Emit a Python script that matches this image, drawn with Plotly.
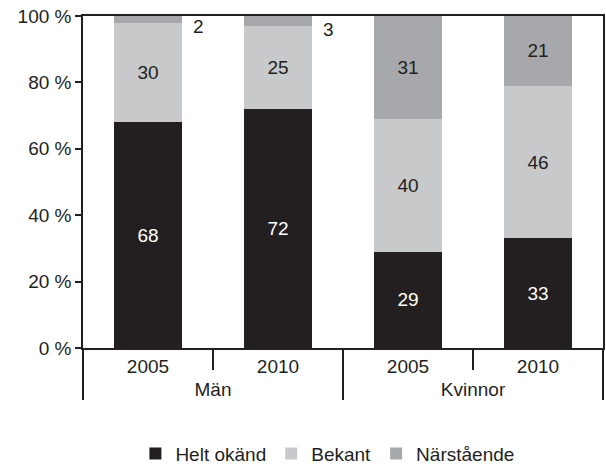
import plotly.graph_objects as go

groups = ["Män", "Män", "Kvinnor", "Kvinnor"]
years = ["2005", "2010", "2005", "2010"]
helt_okand = [68, 72, 29, 33]
bekant = [30, 25, 40, 46]
narstaende = [2, 3, 31, 21]
y_ticks = [0, 20, 40, 60, 80, 100]
y_ticktext = ["0 %", "20 %", "40 %", "60 %", "80 %", "100 %"]

FONT = "Liberation Sans"
FS = 19
TXT = "#231f20"

def labels(vals, min_show=5):
    return [str(v) if v >= min_show else "" for v in vals]

fig = go.Figure()
fig.add_trace(go.Bar(x=[groups, years], y=helt_okand, name="Helt okänd",
                     marker=dict(color="#231f20", line=dict(width=0)),
                     text=labels(helt_okand), textposition="inside",
                     insidetextanchor="middle",
                     textfont=dict(color="white", size=FS, family=FONT)))
fig.add_trace(go.Bar(x=[groups, years], y=bekant, name="Bekant",
                     marker=dict(color="#c8c9cb", line=dict(width=0)),
                     text=labels(bekant), textposition="inside",
                     insidetextanchor="middle",
                     textfont=dict(color=TXT, size=FS, family=FONT)))
fig.add_trace(go.Bar(x=[groups, years], y=narstaende, name="Närstående",
                     marker=dict(color="#a7a8ab", line=dict(width=0)),
                     text=labels(narstaende), textposition="inside",
                     insidetextanchor="middle",
                     textfont=dict(color=TXT, size=FS, family=FONT)))

# small values written beside the bars
for i, v in enumerate(narstaende):
    if v < 5:
        fig.add_annotation(x=i + 0.265, y=100 - v, xref="x", yref="y",
                           text=str(v), showarrow=False, xanchor="left",
                           yanchor="middle", xshift=9, yshift=-4,
                           font=dict(size=FS, color=TXT, family=FONT))

fig.update_layout(
    barmode="stack", bargap=0.47,
    width=606, height=469,
    margin=dict(l=83, r=3, t=16, b=121, autoexpand=False),
    paper_bgcolor="white", plot_bgcolor="white",
    font=dict(family=FONT, size=FS, color=TXT),
    showlegend=True,
    legend=dict(orientation="h", x=0.47, xanchor="center", y=-0.318,
                yanchor="middle", traceorder="normal", itemwidth=30,
                font=dict(size=FS, family=FONT, color=TXT)),
)
fig.update_xaxes(type="multicategory", tickson="boundaries", ticks="outside",
                 ticklen=20, tickcolor="#231f20", tickwidth=1.5,
                 showline=True, linecolor="#231f20", linewidth=1.5, mirror=True,
                 showdividers=True, dividercolor="#231f20", dividerwidth=1.5,
                 showgrid=False, tickfont=dict(size=FS, family=FONT, color=TXT))
fig.update_yaxes(range=[0, 100], tickvals=y_ticks, ticktext=y_ticktext,
                 ticks="outside", ticklen=6,
                 tickcolor="#231f20", tickwidth=1.5,
                 showline=True, linecolor="#231f20", linewidth=1.5, mirror=True,
                 showgrid=False, zeroline=False,
                 tickfont=dict(size=FS, family=FONT, color=TXT))

fig.write_html("out.html", config={"displayModeBar": False},
               post_script="document.body.style.margin='0';document.body.style.overflow='hidden';")
